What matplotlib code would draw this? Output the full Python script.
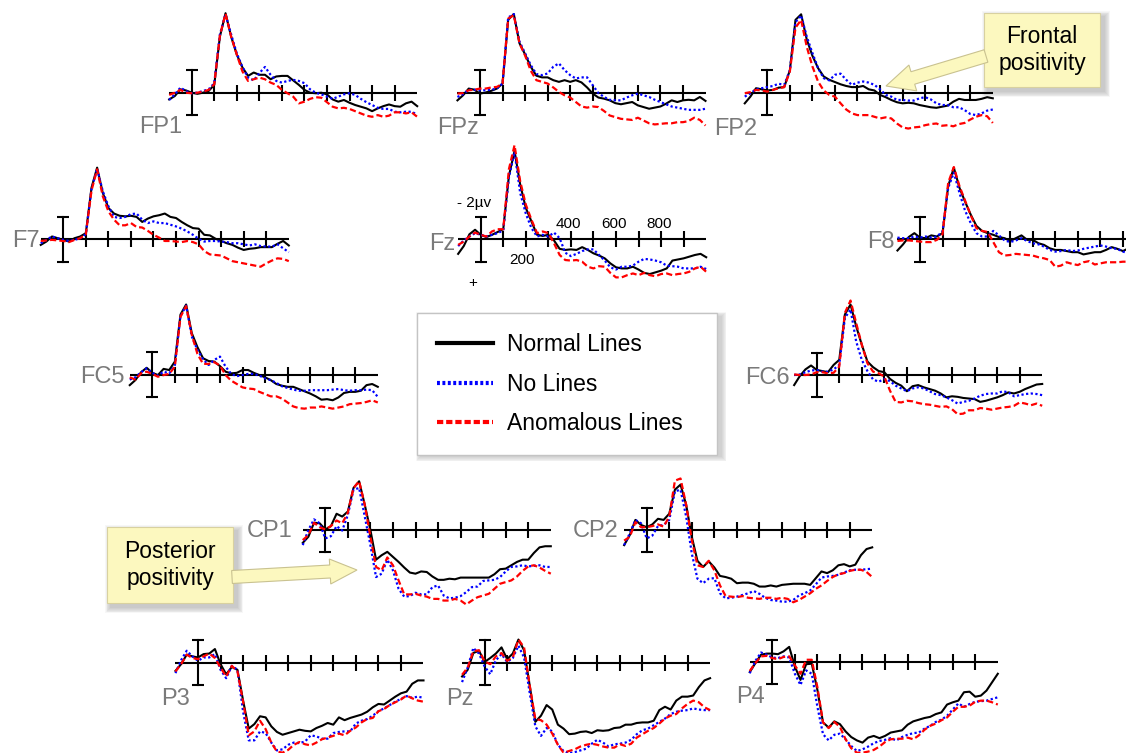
import numpy as np
import matplotlib
matplotlib.use("Agg")
import matplotlib.pyplot as plt
from matplotlib.patches import Rectangle, FancyArrow
from matplotlib.lines import Line2D

plt.rcParams['font.family'] = ['Liberation Sans', 'DejaVu Sans']

# ---------------------------------------------------------------- data
# grand-average ERPs, microvolts (negative plotted upward), sampled every 25 ms
TIMES_MS = list(range(-100, 1001, 25))

FP1_NORMAL = [0.6, 0.3, -0.3, -0.2, 0.0, 0.1, 0.0, -0.15, -0.7, -5.0, -7.1, -5.0, -3.4, -2.25, -1.5, -1.8, -1.6, -1.6, -1.2, -1.45, -1.5, -1.5, -1.1, -0.7, -0.25, 0.0, 0.05, 0.0, 0.15, 0.6, 0.8, 0.65, 0.9, 1.1, 1.25, 1.4, 1.65, 1.4, 1.2, 1.05, 1.2, 1.25, 0.95, 0.8, 1.2]
FP1_NO = [0.65, 0.15, -0.45, -0.15, 0.05, 0.0, -0.15, -0.3, -0.85, -5.2, -7.0, -5.2, -3.5, -2.3, -1.35, -1.1, -1.75, -2.3, -1.6, -1.05, -0.9, -1.05, -1.15, -1.05, -0.85, -0.3, 0.0, 0.15, 0.35, 0.55, 0.35, 0.15, 0.05, 0.2, 0.55, 0.85, 1.1, 1.35, 1.45, 1.45, 1.7, 1.75, 1.7, 1.7, 1.95]
FP1_ANOM = [0.2, 0.0, -0.25, 0.0, 0.05, 0.0, -0.1, -0.25, -0.75, -5.1, -7.05, -5.0, -3.4, -1.9, -1.05, -1.2, -1.35, -1.2, -0.9, -0.7, -0.25, 0.05, 0.35, 0.95, 0.8, 0.55, 0.4, 0.45, 0.85, 1.25, 1.4, 1.35, 1.45, 1.65, 1.85, 2.05, 2.15, 2.0, 2.15, 2.05, 1.75, 1.75, 1.85, 1.75, 2.15]

FPZ_NORMAL = [0.7, 0.25, -0.35, -0.25, 0.1, 0.0, -0.15, -0.35, -0.8, -6.5, -7.0, -4.4, -3.4, -2.3, -1.5, -1.35, -1.35, -1.1, -0.95, -1.1, -0.95, -1.1, -0.9, -0.45, 0.1, 0.45, 0.55, 0.7, 0.95, 1.05, 0.95, 0.85, 1.15, 1.3, 1.45, 1.35, 1.25, 1.0, 0.7, 0.85, 0.7, 0.65, 0.7, 0.4, 0.75]
FPZ_NO = [0.4, 0.15, -0.25, -0.25, -0.2, -0.2, -0.25, -0.35, -0.8, -6.7, -7.0, -4.55, -3.5, -2.45, -1.65, -1.55, -1.7, -2.3, -2.6, -2.0, -1.55, -1.25, -1.35, -1.35, -0.65, 0.05, 0.4, 0.65, 0.7, 0.7, 0.45, 0.25, 0.1, 0.25, 0.4, 0.65, 0.85, 1.05, 1.25, 1.35, 1.45, 1.55, 1.55, 1.55, 1.45]
FPZ_ANOM = [0.1, 0.05, -0.2, -0.25, -0.35, -0.35, -0.45, -0.5, -0.8, -6.6, -6.9, -4.4, -3.3, -1.95, -1.1, -0.95, -0.8, -0.45, -0.05, 0.25, 0.45, 0.85, 1.25, 1.35, 1.25, 1.3, 1.65, 2.05, 2.2, 2.35, 2.4, 2.45, 2.25, 2.5, 2.75, 2.85, 2.8, 2.75, 2.75, 2.65, 2.65, 2.55, 2.25, 2.45, 2.95]

FP2_NORMAL = [0.95, 0.35, -0.4, -0.3, -0.2, -0.25, -0.45, -0.5, -2.0, -6.5, -7.0, -4.75, -3.3, -2.2, -1.45, -1.15, -0.95, -0.75, -0.6, -0.5, -0.5, -0.6, -0.3, -0.2, 0.2, 0.4, 0.65, 0.85, 0.95, 0.9, 0.95, 1.1, 1.2, 1.3, 1.35, 1.25, 1.15, 0.8, 0.55, 0.65, 0.65, 0.65, 0.55, 0.4, 0.5]
FP2_NO = [0.35, 0.05, -0.3, -0.4, -0.5, -0.6, -0.8, -0.7, -2.0, -6.3, -6.9, -5.0, -3.55, -2.2, -1.3, -1.1, -1.6, -1.7, -1.15, -0.7, -0.9, -1.0, -0.9, -0.7, -0.3, 0.2, 0.35, 0.65, 0.65, 0.7, 0.7, 0.5, 0.4, 0.6, 0.95, 1.1, 1.1, 1.3, 1.3, 1.55, 1.9, 2.0, 1.85, 1.6, 1.5]
FP2_ANOM = [0.05, -0.05, -0.25, -0.2, -0.1, -0.25, -0.4, -0.5, -1.9, -5.8, -6.5, -4.1, -2.35, -1.0, -0.2, 0.2, 0.35, 0.95, 1.5, 1.85, 2.0, 2.0, 2.0, 2.15, 2.3, 2.2, 2.3, 2.75, 3.1, 3.2, 3.1, 3.05, 2.9, 2.8, 2.75, 2.95, 2.9, 3.0, 2.8, 2.7, 2.4, 2.15, 2.0, 2.1, 2.7]

F7_NORMAL = [0.5, 0.2, -0.25, -0.1, 0.05, 0.2, -0.1, -0.25, -0.55, -4.6, -6.4, -4.15, -2.8, -2.3, -2.1, -2.05, -2.1, -2.0, -1.55, -1.85, -2.05, -2.15, -2.3, -2.0, -1.9, -1.55, -1.25, -1.0, -0.95, -0.4, -0.35, -0.05, 0.15, 0.35, 0.5, 0.75, 0.95, 0.85, 0.8, 0.7, 0.7, 0.7, 0.4, 0.15, 0.55]
F7_NO = [0.35, 0.05, -0.25, -0.1, 0.05, 0.15, 0.05, -0.1, -0.45, -4.45, -6.3, -4.3, -2.95, -2.0, -1.9, -2.0, -2.25, -2.3, -1.75, -1.45, -1.6, -1.45, -1.45, -1.3, -1.15, -0.95, -0.7, -0.4, -0.05, 0.2, 0.15, 0.15, 0.2, 0.25, 0.35, 0.35, 0.45, 0.55, 0.45, 0.6, 0.65, 0.65, 0.45, 0.8, 1.15]
F7_ANOM = [0.15, 0.1, 0.05, 0.1, 0.15, 0.25, 0.05, -0.1, -0.45, -4.35, -6.25, -3.85, -2.5, -1.75, -1.25, -1.25, -1.45, -1.1, -1.05, -0.75, -0.4, -0.15, 0.15, 0.15, 0.2, 0.25, 0.15, 0.25, 0.45, 1.05, 1.35, 1.4, 1.45, 1.7, 1.95, 2.05, 2.15, 2.25, 2.35, 2.45, 2.15, 1.9, 1.7, 1.75, 1.95]

FZ_NORMAL = [1.3, 0.6, -0.45, -0.85, -0.4, -0.2, -0.4, -0.65, -0.9, -5.65, -7.9, -4.9, -2.8, -1.6, -0.4, -0.3, -0.4, 0.1, 0.85, 0.95, 0.9, 0.95, 0.7, 0.95, 1.25, 1.45, 1.7, 2.15, 2.5, 2.6, 2.6, 2.45, 2.7, 3.0, 3.1, 2.95, 2.8, 2.6, 1.9, 1.8, 1.7, 1.55, 1.4, 1.3, 1.6]
FZ_NO = [0.6, 0.1, -0.25, -0.55, -0.4, -0.25, -0.4, -0.55, -0.8, -5.5, -7.8, -4.15, -2.3, -1.0, -0.25, -0.4, -0.25, -0.6, -0.1, 1.2, 1.5, 1.3, 1.05, 0.9, 0.9, 1.4, 1.9, 2.5, 2.7, 2.45, 2.45, 2.35, 2.0, 1.75, 1.8, 1.9, 2.05, 2.35, 2.4, 2.45, 2.6, 2.6, 2.6, 2.45, 2.65]
FZ_ANOM = [0.5, 0.2, -0.25, -0.6, -0.4, -0.25, -0.7, -0.9, -0.9, -6.25, -8.4, -5.2, -3.1, -1.75, -0.55, -0.7, -0.55, 0.35, 1.4, 1.85, 1.9, 1.85, 2.0, 2.45, 2.6, 2.4, 2.45, 3.0, 3.4, 3.4, 3.2, 3.05, 3.2, 3.0, 3.2, 3.3, 3.1, 3.05, 3.2, 3.1, 3.05, 2.9, 2.6, 2.45, 2.9]

F8_NORMAL = [1.0, 0.45, -0.2, -0.55, -0.15, -0.1, -0.35, -0.25, -0.55, -4.75, -6.4, -4.6, -3.35, -2.2, -1.2, -0.75, -0.55, -0.4, -0.2, -0.1, 0.15, -0.1, -0.35, 0.05, 0.05, 0.35, 0.5, 0.8, 0.95, 0.95, 1.05, 1.15, 1.15, 1.35, 1.25, 1.15, 1.15, 0.95, 0.7, 0.85, 1.05, 0.8, 0.85, 0.95, 0.95]
F8_NO = [-0.15, -0.1, -0.1, -0.25, -0.15, -0.25, -0.15, -0.25, -0.7, -4.6, -5.95, -4.15, -2.55, -1.45, -0.55, -0.25, -0.25, -0.75, -0.35, 0.1, 0.25, 0.1, -0.1, 0.15, 0.35, 0.45, 0.65, 0.95, 1.1, 1.05, 0.95, 1.05, 1.0, 0.85, 0.75, 0.65, 0.55, 0.65, 0.8, 0.85, 1.1, 1.25, 1.25, 1.25, 1.25]
F8_ANOM = [0.15, 0.1, 0.1, 0.15, 0.2, 0.25, 0.25, 0.05, -0.45, -5.05, -6.45, -4.75, -3.45, -2.15, -1.0, -0.75, -0.65, 0.25, 1.15, 1.45, 1.4, 1.3, 1.35, 1.4, 1.45, 1.6, 1.7, 1.85, 2.45, 2.35, 2.05, 2.2, 2.3, 2.05, 1.95, 2.25, 2.15, 2.05, 2.05, 2.05, 2.0, 2.0, 2.0, 2.0, 2.0]

FC5_NORMAL = [0.95, 0.5, -0.2, -0.6, -0.15, 0.05, -0.5, -0.4, -1.15, -5.35, -6.25, -3.7, -2.45, -1.45, -1.2, -1.15, -0.75, -0.25, -0.1, -0.15, -0.4, -0.4, -0.15, 0.05, 0.25, 0.5, 0.85, 1.0, 1.1, 1.1, 1.3, 1.5, 1.7, 1.95, 2.25, 2.2, 2.3, 2.05, 1.65, 1.55, 1.55, 1.45, 0.95, 0.85, 1.1]
FC5_NO = [0.45, 0.25, -0.2, -0.55, -0.15, 0.1, -0.25, -0.1, -0.85, -5.2, -6.15, -3.4, -2.2, -1.35, -0.85, -1.3, -1.6, -0.7, -0.05, 0.15, 0.05, -0.05, -0.05, 0.1, 0.35, 0.5, 0.75, 1.05, 1.2, 1.35, 1.45, 1.45, 1.4, 1.4, 1.4, 1.4, 1.35, 1.3, 1.4, 1.45, 1.4, 1.4, 1.35, 1.4, 2.0]
FC5_ANOM = [0.25, 0.45, -0.1, -0.25, -0.05, 0.2, 0.05, -0.05, -0.7, -5.15, -6.1, -3.55, -1.85, -0.95, -0.95, -1.1, -0.8, 0.05, 0.55, 0.85, 1.15, 1.25, 1.3, 1.55, 1.75, 1.95, 1.95, 2.15, 2.5, 2.85, 3.0, 3.05, 2.95, 2.95, 2.85, 2.95, 3.05, 2.95, 2.85, 2.65, 2.6, 2.55, 2.45, 2.3, 2.5]

FC6_NORMAL = [0.9, 0.1, -0.5, -0.85, -0.45, -0.35, -0.25, -0.9, -1.35, -5.4, -6.3, -4.35, -2.7, -1.2, -0.7, -0.35, -0.25, 0.35, 0.7, 0.95, 1.45, 1.0, 0.9, 1.1, 1.25, 1.4, 1.65, 2.0, 1.9, 1.95, 2.05, 2.1, 2.15, 2.4, 2.3, 2.15, 2.0, 1.8, 1.55, 1.65, 1.5, 1.25, 1.05, 0.85, 0.8]
FC6_NO = [0.0, -0.05, -0.25, -0.4, -0.45, -0.3, -0.3, -0.5, -0.9, -5.1, -5.85, -3.0, -1.35, -0.35, 0.4, 0.6, 0.35, 0.55, 0.95, 1.2, 1.45, 1.2, 1.1, 1.2, 1.45, 1.7, 1.8, 2.0, 2.25, 2.55, 2.4, 2.3, 2.1, 1.85, 1.7, 1.65, 1.65, 1.45, 1.55, 1.9, 1.8, 1.7, 1.65, 1.7, 1.8]
FC6_ANOM = [-0.05, 0.0, 0.0, -0.05, -0.25, -0.25, -0.15, -0.2, -0.75, -5.55, -6.65, -4.65, -2.7, -1.05, -0.3, -0.15, 0.15, 1.4, 2.4, 2.45, 2.3, 2.35, 2.5, 2.6, 2.65, 2.75, 2.85, 2.8, 3.05, 3.5, 3.45, 3.15, 3.15, 2.95, 3.0, 3.1, 3.0, 2.9, 2.85, 2.75, 2.45, 2.55, 2.7, 2.55, 2.75]

CP1_NORMAL = [1.15, 0.6, -0.65, -0.6, -0.05, -0.35, -1.45, -1.2, -1.65, -3.75, -4.35, -2.25, 0.0, 2.65, 2.25, 1.95, 2.4, 2.85, 3.35, 3.8, 3.9, 3.7, 3.75, 4.15, 4.45, 4.45, 4.35, 4.4, 4.25, 4.25, 4.25, 4.25, 4.25, 4.25, 3.95, 3.5, 3.45, 3.15, 2.85, 2.65, 2.65, 2.05, 1.55, 1.45, 1.45]
CP1_NO = [1.35, 0.0, -0.95, -0.6, 0.75, 0.55, -0.35, 0.05, -1.35, -3.6, -3.75, -1.2, 1.35, 4.2, 3.9, 2.65, 3.6, 5.25, 5.95, 5.9, 5.6, 5.75, 5.75, 5.1, 4.95, 5.85, 6.1, 6.05, 5.9, 5.55, 5.1, 5.05, 4.55, 4.5, 4.45, 4.2, 3.7, 3.3, 3.25, 3.15, 3.25, 3.2, 3.15, 3.3, 3.3]
CP1_ANOM = [0.9, 0.45, -0.65, -0.25, -0.05, -0.35, -0.85, -0.6, -1.55, -3.75, -4.35, -2.25, 0.6, 3.3, 3.6, 2.45, 3.15, 4.5, 5.75, 5.75, 5.7, 5.85, 5.95, 6.15, 6.15, 6.3, 6.3, 6.15, 6.3, 6.65, 6.3, 6.0, 5.85, 5.7, 5.25, 4.8, 4.65, 4.5, 4.15, 3.65, 3.25, 3.15, 3.35, 3.65, 3.9]

CP2_NORMAL = [1.35, 0.45, -0.9, -0.45, -0.25, -0.5, -1.0, -0.9, -1.45, -3.6, -4.05, -2.25, 0.6, 2.75, 3.3, 2.8, 3.35, 4.1, 4.2, 4.35, 4.75, 4.7, 4.7, 4.8, 5.05, 5.05, 4.95, 5.05, 4.9, 4.85, 4.8, 4.8, 4.8, 4.9, 4.3, 3.7, 3.85, 3.6, 3.15, 3.05, 3.25, 3.1, 2.25, 1.7, 1.55]
CP2_NO = [1.35, 0.3, -0.9, -0.6, 0.75, 0.5, -0.35, -0.45, -0.9, -3.45, -3.6, -1.2, 2.1, 4.35, 4.75, 4.35, 4.3, 5.65, 6.1, 6.05, 5.95, 5.8, 5.65, 5.45, 5.7, 6.05, 6.25, 6.3, 6.4, 6.4, 6.25, 5.85, 5.65, 5.4, 4.85, 4.25, 4.15, 4.1, 4.0, 3.8, 3.6, 3.55, 3.55, 3.5, 3.45]
CP2_ANOM = [0.95, 0.6, -0.7, -0.25, -0.25, -0.35, -0.5, -0.3, -1.2, -4.4, -4.6, -2.25, 0.9, 3.15, 3.3, 2.75, 3.6, 4.95, 5.9, 5.95, 6.0, 5.9, 6.05, 6.1, 6.15, 6.05, 6.05, 6.15, 6.05, 6.15, 6.45, 6.25, 5.95, 5.65, 5.25, 4.95, 4.55, 4.2, 3.95, 3.85, 3.65, 3.55, 3.55, 3.75, 4.2]

P3_NORMAL = [0.75, 0.15, -0.7, -0.55, -0.45, -0.75, -0.8, -1.2, 0.15, 1.05, 0.4, 0.65, 3.4, 5.9, 5.5, 4.8, 4.9, 5.7, 6.2, 6.45, 6.3, 6.15, 6.0, 6.1, 6.15, 5.85, 5.65, 5.4, 5.55, 4.9, 5.15, 4.95, 4.8, 4.65, 4.4, 4.0, 3.7, 3.75, 3.4, 3.05, 2.75, 2.6, 1.9, 1.6, 1.6]
P3_NO = [0.95, -0.2, -1.05, -0.55, -0.15, -0.45, -0.45, -0.75, 0.65, 1.4, 0.3, 0.65, 4.4, 6.95, 6.95, 6.15, 6.3, 7.15, 7.85, 7.75, 7.35, 7.15, 7.2, 7.05, 6.5, 6.6, 6.8, 6.8, 6.3, 6.2, 6.15, 6.15, 5.45, 5.2, 5.05, 4.75, 4.35, 4.1, 3.8, 3.5, 3.25, 3.0, 3.15, 3.05, 3.15]
P3_ANOM = [0.8, 0.15, -0.7, -0.4, -0.3, -0.55, -0.8, -0.4, 0.45, 1.25, 0.3, 0.8, 3.5, 6.5, 6.15, 5.2, 5.95, 7.15, 7.95, 8.05, 7.8, 7.35, 7.1, 7.3, 7.4, 7.15, 6.85, 6.7, 6.55, 6.35, 6.5, 6.1, 5.8, 5.35, 5.05, 4.95, 4.35, 4.15, 3.8, 3.55, 3.3, 2.95, 3.2, 3.4, 3.5]

PZ_NORMAL = [1.25, 0.65, -0.85, -1.05, -0.05, -0.4, -0.8, -1.35, -0.3, -0.8, -2.05, -1.1, 2.05, 5.3, 4.75, 3.8, 4.2, 5.55, 5.9, 6.4, 6.35, 6.2, 6.15, 6.3, 6.05, 6.1, 6.05, 5.85, 5.8, 5.55, 5.55, 5.4, 5.35, 5.35, 5.2, 4.25, 3.95, 4.2, 3.4, 3.05, 3.05, 2.95, 2.2, 1.6, 1.4]
PZ_NO = [1.75, 0.45, -1.3, -0.8, 0.35, 1.05, -0.2, -0.75, -0.05, -0.4, -1.5, -0.45, 2.7, 5.7, 6.55, 5.85, 6.15, 7.35, 7.9, 8.1, 8.0, 7.85, 7.7, 7.25, 6.9, 7.15, 7.5, 7.3, 7.25, 7.15, 6.9, 6.4, 6.05, 5.9, 5.6, 5.3, 5.0, 4.6, 4.4, 4.3, 4.25, 4.1, 4.2, 4.25, 4.25]
PZ_ANOM = [1.1, 0.45, -1.0, -1.1, -0.1, 0.15, -0.55, -0.85, -0.15, -0.45, -2.05, -1.35, 2.05, 5.05, 5.15, 5.55, 6.35, 7.35, 8.05, 7.9, 7.75, 7.5, 7.35, 7.25, 7.35, 7.5, 7.6, 7.6, 7.3, 7.45, 7.25, 6.7, 6.4, 6.1, 5.85, 5.45, 5.0, 4.75, 4.6, 4.1, 3.7, 3.4, 3.55, 4.0, 4.25]

P4_NORMAL = [0.9, 0.1, -0.65, -0.75, -0.75, -0.7, -0.95, -1.35, 0.4, 1.6, 0.2, 0.15, 2.5, 5.4, 5.85, 5.3, 5.55, 6.2, 6.7, 7.0, 7.2, 6.75, 6.6, 6.8, 6.6, 6.3, 6.2, 6.1, 5.6, 5.3, 5.15, 5.0, 4.9, 4.65, 4.5, 3.8, 3.6, 3.45, 2.7, 2.65, 3.1, 3.0, 2.55, 1.8, 1.05]
P4_NO = [1.0, -0.1, -0.85, -0.65, -0.4, -0.35, -0.5, -0.4, 1.05, 2.05, 0.75, 1.05, 4.0, 6.45, 7.0, 6.5, 6.4, 6.9, 7.5, 7.95, 7.8, 7.55, 7.25, 7.05, 6.95, 6.8, 7.0, 6.7, 6.5, 6.35, 6.3, 5.95, 5.7, 5.35, 5.15, 4.8, 4.25, 3.7, 4.0, 3.75, 3.55, 3.5, 3.45, 3.3, 3.15]
P4_ANOM = [0.8, 0.1, -0.5, -0.55, -0.35, -0.25, -0.45, -0.5, 0.3, 1.05, -0.2, -0.2, 2.25, 5.4, 5.9, 5.35, 5.8, 6.9, 7.7, 8.1, 8.1, 8.0, 7.85, 7.55, 7.15, 6.9, 6.85, 6.85, 6.75, 6.9, 6.55, 6.05, 5.7, 5.5, 5.2, 4.95, 4.45, 4.0, 4.0, 3.9, 3.55, 3.45, 3.45, 3.6, 3.8]

CONDITIONS = ["Normal Lines", "No Lines", "Anomalous Lines"]
ELECTRODES = ["FP1", "FPz", "FP2", "F7", "Fz", "F8", "FC5", "FC6",
              "CP1", "CP2", "P3", "Pz", "P4"]
WAVES = {
    "FP1": (FP1_NORMAL, FP1_NO, FP1_ANOM),
    "FPz": (FPZ_NORMAL, FPZ_NO, FPZ_ANOM),
    "FP2": (FP2_NORMAL, FP2_NO, FP2_ANOM),
    "F7": (F7_NORMAL, F7_NO, F7_ANOM),
    "Fz": (FZ_NORMAL, FZ_NO, FZ_ANOM),
    "F8": (F8_NORMAL, F8_NO, F8_ANOM),
    "FC5": (FC5_NORMAL, FC5_NO, FC5_ANOM),
    "FC6": (FC6_NORMAL, FC6_NO, FC6_ANOM),
    "CP1": (CP1_NORMAL, CP1_NO, CP1_ANOM),
    "CP2": (CP2_NORMAL, CP2_NO, CP2_ANOM),
    "P3": (P3_NORMAL, P3_NO, P3_ANOM),
    "Pz": (PZ_NORMAL, PZ_NO, PZ_ANOM),
    "P4": (P4_NORMAL, P4_NO, P4_ANOM),
}
TICKS_MS = [100, 200, 300, 400, 500, 600, 700, 800, 900]
FZ_TICK_LABEL_MS = [200, 400, 600, 800]
FZ_TICK_LABELS = ["200", "400", "600", "800"]
AXIS_SPAN_MS = (-100, 1000)
SCALE_BAR_UV = 2
CALLOUTS = ["Frontal\npositivity", "Posterior\npositivity"]

for name in ELECTRODES:
    for s in WAVES[name]:
        assert len(s) == len(TIMES_MS), (name, len(s))

# ---------------------------------------------------------------- layout
W, H, DPI = 1126, 753, 100
PX_MS = 0.2255   # pixels per millisecond
PX_UV = 11.2     # pixels per microvolt
PANEL_POS = {    # pixel position of (0 ms, 0 uV)
    "FP1": (191.7, 92.7), "FPz": (480.0, 92.5), "FP2": (767.3, 92.7),
    "F7": (63.3, 239.3), "Fz": (480.7, 239.3), "F8": (920.0, 239.3),
    "FC5": (152.3, 374.5), "FC6": (816.7, 375.0),
    "CP1": (325.3, 530.0), "CP2": (646.7, 530.0),
    "P3": (198.0, 662.5), "Pz": (484.6, 662.5), "P4": (772.3, 662.0),
}
LABEL_POS = {    # right edge, baseline of electrode name
    "FP1": (182, 133), "FPz": (479, 134), "FP2": (757, 135),
    "F7": (40, 247), "Fz": (455, 250), "F8": (895, 248),
    "FC5": (125, 383), "FC6": (790, 384),
    "CP1": (293, 537), "CP2": (618, 537),
    "P3": (190, 705), "Pz": (473, 705), "P4": (765, 703),
}
STYLES = [
    dict(color="#000000", lw=1.5, ls="-"),
    dict(color="#0000ff", lw=1.6, ls=(0, (1.0, 1.1))),
    dict(color="#ff0000", lw=1.6, ls=(0, (2.8, 1.4))),
]
LEGEND_STYLES = [
    dict(color="#000000", lw=3.0, ls="-"),
    dict(color="#0000ff", lw=3.0, ls=(0, (0.7, 0.6))),
    dict(color="#ff0000", lw=3.0, ls=(0, (1.5, 0.7))),
]
LABEL_GRAY = "#7a7a7a"
CALLOUT_FILL = "#fcf8bf"
CALLOUT_EDGE = "#d8d1a0"

fig = plt.figure(figsize=(W / DPI, H / DPI), dpi=DPI)
fig.patch.set_facecolor("white")

XLO, XHI, YLO, YHI = -260, 1160, -12, 12


def panel_axes(x0, y0):
    left = x0 + XLO * PX_MS
    right = x0 + XHI * PX_MS
    top = y0 + YLO * PX_UV
    bottom = y0 + YHI * PX_UV
    ax = fig.add_axes([left / W, 1 - bottom / H, (right - left) / W, (bottom - top) / H])
    ax.set_xlim(XLO, XHI)
    ax.set_ylim(YHI, YLO)          # negative up
    ax.set_axis_off()
    ax.patch.set_alpha(0)
    return ax


tick_half = 8.0 / PX_UV
cap_half = 6.0 / PX_MS
for name in ELECTRODES:
    ax = panel_axes(*PANEL_POS[name])
    ax.plot(AXIS_SPAN_MS, [0, 0], color="black", lw=1.5, solid_capstyle="butt")
    for t in TICKS_MS:
        ax.plot([t, t], [-tick_half, tick_half], color="black", lw=1.5, solid_capstyle="butt")
    ax.plot([0, 0], [-SCALE_BAR_UV, SCALE_BAR_UV], color="black", lw=1.5)
    for v in (-SCALE_BAR_UV, SCALE_BAR_UV):
        ax.plot([-cap_half, cap_half], [v, v], color="black", lw=1.5, solid_capstyle="butt")
    for series, st in zip(WAVES[name], STYLES):
        ax.plot(TIMES_MS, series, clip_on=False, solid_joinstyle="round", **st)
    if name == "Fz":
        ax.text(-28, -3.25, "- 2\u00b5v", ha="center", va="center", fontsize=11)
        ax.text(-34, 3.9, "+", ha="center", va="center", fontsize=11)
        for t, lab in zip(FZ_TICK_LABEL_MS, FZ_TICK_LABELS):
            if t == 200:
                ax.text(t - 18, 1.85, lab, ha="center", va="center", fontsize=11)
            else:
                ax.text(t - 10, -1.4, lab, ha="center", va="center", fontsize=11)

# ---------------------------------------------------------------- overlay
ov = fig.add_axes([0, 0, 1, 1], zorder=3)
ov.set_xlim(0, W)
ov.set_ylim(H, 0)
ov.set_axis_off()
ov.patch.set_alpha(0)

for name in ELECTRODES:
    x, y = LABEL_POS[name]
    ov.text(x, y, name, ha="right", va="baseline", fontsize=17, color=LABEL_GRAY)


def soft_shadow(x, y, w, h, off=4, n=7):
    for i in range(n):
        g = (n - i) * 0.9
        ov.add_patch(Rectangle((x + off - g, y + off - g), w + 2 * g, h + 2 * g,
                               facecolor="black", alpha=0.03, lw=0, zorder=1))


def callout(x, y, w, h, text):
    soft_shadow(x, y, w, h)
    ov.add_patch(Rectangle((x, y), w, h, facecolor=CALLOUT_FILL, edgecolor=CALLOUT_EDGE,
                           lw=0.8, zorder=2))
    ov.text(x + w / 2, y + h / 2, text, ha="center", va="center", fontsize=16.5,
            linespacing=1.25, zorder=4)


callout(984, 13, 116, 74, CALLOUTS[0])
callout(107, 527, 126, 76, CALLOUTS[1])

ov.add_patch(FancyArrow(986, 56, -100, 30, width=13, head_width=27, head_length=28,
                        length_includes_head=True, facecolor=CALLOUT_FILL,
                        edgecolor="#c9c290", lw=0.8, zorder=3))
ov.add_patch(FancyArrow(232, 577, 125, -7, width=13, head_width=25, head_length=27,
                        length_includes_head=True, facecolor=CALLOUT_FILL,
                        edgecolor="#c9c290", lw=0.8, zorder=3))

# legend box
LX, LY, LW_, LH = 417, 313, 300, 139
soft_shadow(LX, LY, LW_, LH, off=4, n=6)
handles = [Line2D([0], [0], **st) for st in LEGEND_STYLES]
leg = fig.legend(handles, CONDITIONS, loc="upper left",
                 bbox_to_anchor=(LX / W, 1 - (LY + LH) / H, LW_ / W, LH / H), mode="expand",
                 borderaxespad=0.0, fontsize=16.5, handlelength=2.45, handletextpad=0.6,
                 labelspacing=0.72, borderpad=0.88, fancybox=False,
                 framealpha=1, edgecolor="#c4c4c4")
leg.get_frame().set_linewidth(1.0)
leg.set_zorder(6)

fig.savefig("out.png", dpi=DPI, facecolor="white")
